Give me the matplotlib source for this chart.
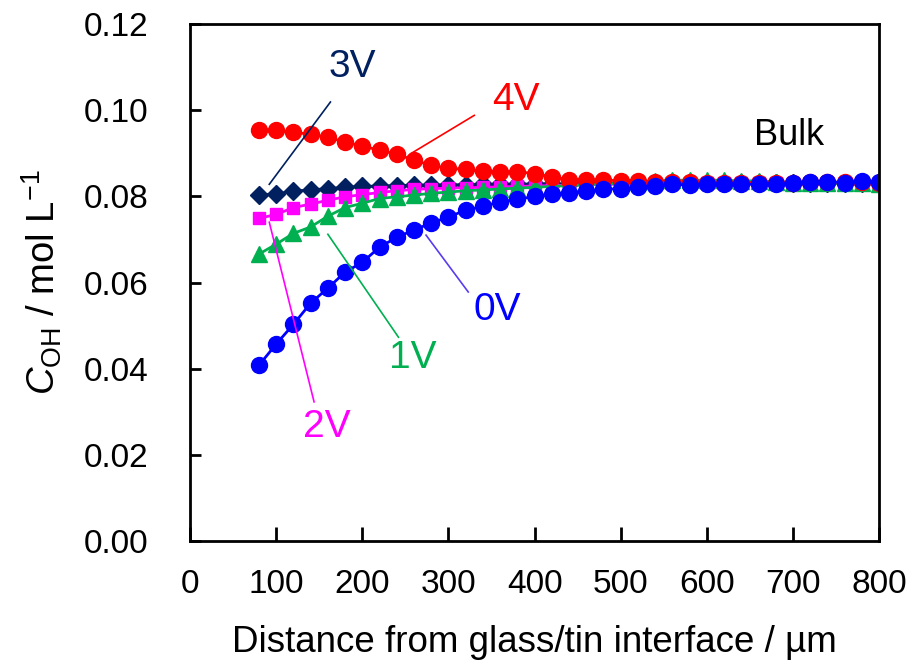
import numpy as np
import matplotlib
matplotlib.use("Agg")
import matplotlib.pyplot as plt

plt.rcParams['font.family'] = ['Liberation Sans', 'DejaVu Sans']
plt.rcParams['mathtext.fontset'] = 'custom'
plt.rcParams['mathtext.rm'] = 'Liberation Sans'
plt.rcParams['mathtext.it'] = 'Liberation Sans:italic'

# distance from interface (um)
dist = list(range(80, 801, 20))

c_0v = [0.0408, 0.0457, 0.0503, 0.0552, 0.0587, 0.0624, 0.0647, 0.0682, 0.0705, 0.0722,
        0.0738, 0.0752, 0.0768, 0.0777, 0.0787, 0.0793, 0.0800, 0.0805, 0.0808, 0.0813,
        0.0816, 0.0818, 0.0822, 0.0824, 0.0828, 0.0826, 0.0828, 0.0828, 0.0828, 0.0828,
        0.0829, 0.0830, 0.0834, 0.0834, 0.0832, 0.0835, 0.0834]
c_1v = [0.0666, 0.0689, 0.0714, 0.0729, 0.0754, 0.0774, 0.0784, 0.0795, 0.0799, 0.0803,
        0.0807, 0.0810, 0.0813, 0.0815, 0.0817, 0.0819, 0.0821, 0.0823, 0.0825, 0.0827,
        0.0829, 0.0830, 0.0833, 0.0835, 0.0838, 0.0837, 0.0838, 0.0837, 0.0836, 0.0836,
        0.0834, 0.0832, 0.0832, 0.0831, 0.0830, 0.0830, 0.0828]
c_2v = [0.0749, 0.0758, 0.0774, 0.0782, 0.0791, 0.0799, 0.0804, 0.0809, 0.0813, 0.0816,
        0.0818, 0.0819, 0.0820, 0.0821, 0.0822, 0.0823, 0.0824, 0.0825, 0.0826, 0.0827,
        0.0828, 0.0828, 0.0829, 0.0830, 0.0831, 0.0831, 0.0832, 0.0832, 0.0832, 0.0831,
        0.0831, 0.0831, 0.0831, 0.0832, 0.0832, 0.0832, 0.0832]
c_3v = [0.0803, 0.0806, 0.0812, 0.0815, 0.0818, 0.0821, 0.0823, 0.0824, 0.0825, 0.0826,
        0.0826, 0.0827, 0.0827, 0.0828, 0.0828, 0.0828, 0.0829, 0.0829, 0.0829, 0.0830,
        0.0830, 0.0830, 0.0830, 0.0830, 0.0831, 0.0831, 0.0831, 0.0831, 0.0831, 0.0831,
        0.0831, 0.0832, 0.0832, 0.0832, 0.0832, 0.0832, 0.0832]
c_4v = [0.0954, 0.0954, 0.0949, 0.0944, 0.0937, 0.0926, 0.0917, 0.0907, 0.0898, 0.0884,
        0.0872, 0.0865, 0.0863, 0.0858, 0.0857, 0.0857, 0.0853, 0.0845, 0.0839, 0.0838,
        0.0838, 0.0836, 0.0836, 0.0833, 0.0833, 0.0833, 0.0832, 0.0832, 0.0832, 0.0832,
        0.0832, 0.0832, 0.0833, 0.0833, 0.0833, 0.0833, 0.0832]

fig = plt.figure(figsize=(9.11, 6.71), dpi=100)
ax = fig.add_axes([0.2086, 0.1937, 0.7564, 0.7705])

ax.plot(dist, c_3v, color='#002060', marker='D', ms=9, lw=2)
ax.plot(dist, c_2v, color='#ff00ff', marker='s', ms=9, lw=2)
ax.plot(dist, c_1v, color='#00b050', marker='^', ms=11, lw=2)
ax.plot(dist, c_4v, color='#ff0000', marker='o', ms=11.5, lw=2)
ax.plot(dist, c_0v, color='#0000ff', marker='o', ms=11.5, lw=2)

ax.set_xlim(0, 800)
ax.set_ylim(0, 0.12)
ax.set_xticks(range(0, 801, 100))
ax.set_yticks(np.arange(0, 0.121, 0.02))
ax.set_yticklabels(['%.2f' % v for v in np.arange(0, 0.121, 0.02)])
for s in ax.spines.values():
    s.set_linewidth(2)
ax.tick_params(axis='x', direction='in', length=10, width=2, labelsize=24, pad=20)
ax.tick_params(axis='y', direction='in', length=8, width=2, labelsize=24, pad=30)

ax.set_xlabel('Distance from glass/tin interface / µm', fontsize=26.5, labelpad=18)
ax.set_ylabel(r'$\mathit{C}_{\mathrm{OH}}$ / mol L$^{\mathrm{-1}}$', fontsize=27.5, labelpad=14)

# labels with leader lines
notes = [
    ('3V', '#002060', (188, 0.110), (92, 0.0828), (163, 0.1019)),
    ('4V', '#ff0000', (378, 0.1023), (257, 0.0900), (330, 0.0988)),
    ('0V', '#0000ff', (357, 0.0536), (274, 0.0710), (323, 0.0578)),
    ('1V', '#00b050', (259, 0.0425), (160, 0.0712), (242, 0.0473)),
    ('2V', '#ff00ff', (159, 0.0265), (92, 0.0740), (144, 0.0323)),
]
line_cols = {'0V': '#5a3cf0'}
for txt, col, tpos, p1, p2 in notes:
    ax.plot([p1[0], p2[0]], [p1[1], p2[1]], color=line_cols.get(txt, col), lw=1.2)
    ax.text(tpos[0], tpos[1], txt, color=col, fontsize=28, ha='center', va='center')
ax.text(695, 0.0942, 'Bulk', color='black', fontsize=26, ha='center', va='center')

fig.savefig('out.png', dpi=100)
